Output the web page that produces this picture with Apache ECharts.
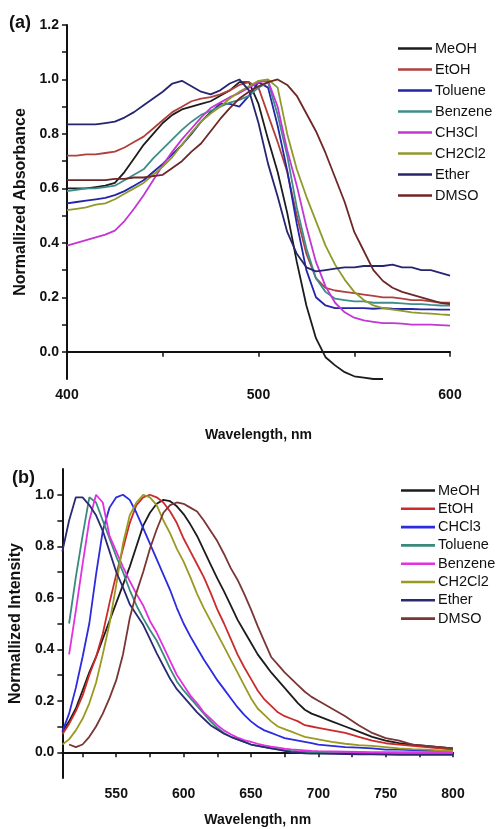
<!DOCTYPE html>
<html><head><meta charset="utf-8">
<script src="https://cdn.jsdelivr.net/npm/echarts@6/dist/echarts.min.js"></script>
<style>html,body{margin:0;padding:0;background:#fff}#c{width:496px;height:829px}</style>
</head><body><div id="c"></div><script>
// ---------- Panel (a): absorbance ----------
const wlA = [400,405,410,415,420,425,430,435,440,445,450,455,460,465,470,475,480,485,490,495,500,505,510,515,520,525,530,535,540,545,550,555,560,565,570,575,580,585,590,595,600];
const namesA = ['MeOH','EtOH','Toluene','Benzene','CH3Cl','CH2Cl2','Ether','DMSO'];
const colorsA = ['#1c1c1c','#b0403d','#2424a6','#3e8c8c','#c236d4','#8f9a2c','#26266e','#6e2626'];
const absMeOH   = [0.60,0.60,0.60,0.605,0.61,0.62,0.66,0.71,0.76,0.80,0.84,0.87,0.89,0.90,0.91,0.92,0.94,0.96,0.99,0.99,0.91,0.78,0.66,0.51,0.33,0.17,0.05,-0.02,-0.05,-0.075,-0.09,-0.095,-0.1,-0.1,null,null,null,null,null,null,null];
const absEtOH   = [0.72,0.72,0.725,0.725,0.73,0.735,0.75,0.77,0.79,0.82,0.85,0.88,0.90,0.92,0.93,0.935,0.945,0.96,0.98,0.99,0.97,0.87,0.77,0.66,0.50,0.36,0.27,0.235,0.225,0.22,0.215,0.21,0.205,0.20,0.20,0.195,0.19,0.19,0.185,0.18,0.18];
const absToluene= [0.545,0.55,0.555,0.56,0.565,0.575,0.59,0.61,0.63,0.66,0.69,0.725,0.76,0.80,0.845,0.88,0.91,0.91,0.90,0.94,0.99,0.97,0.83,0.665,0.47,0.30,0.20,0.17,0.16,0.16,0.16,0.16,0.158,0.16,0.158,0.157,0.157,0.156,0.156,0.155,0.155];
const absBenzene= [0.59,0.595,0.60,0.60,0.605,0.61,0.63,0.65,0.67,0.71,0.745,0.78,0.815,0.845,0.87,0.885,0.90,0.915,0.925,0.94,0.97,0.99,0.87,0.72,0.53,0.38,0.27,0.22,0.195,0.19,0.185,0.185,0.18,0.18,0.18,0.178,0.175,0.175,0.172,0.17,0.17];
const absCH3Cl  = [0.39,0.40,0.41,0.42,0.43,0.445,0.48,0.525,0.575,0.63,0.685,0.735,0.78,0.82,0.86,0.895,0.915,0.935,0.95,0.97,0.99,0.995,0.90,0.74,0.61,0.46,0.33,0.24,0.18,0.145,0.125,0.115,0.11,0.105,0.105,0.103,0.10,0.10,0.10,0.098,0.096];
const absCH2Cl2 = [0.52,0.525,0.53,0.54,0.545,0.56,0.58,0.60,0.62,0.65,0.68,0.715,0.76,0.805,0.845,0.875,0.90,0.93,0.955,0.975,0.995,1.0,0.97,0.80,0.67,0.57,0.48,0.39,0.32,0.265,0.22,0.19,0.17,0.16,0.155,0.15,0.145,0.142,0.14,0.137,0.135];
const absEther  = [0.835,0.835,0.835,0.835,0.84,0.845,0.86,0.88,0.905,0.93,0.955,0.985,0.995,0.975,0.955,0.945,0.96,0.985,1.0,0.96,0.84,0.69,0.57,0.44,0.36,0.31,0.295,0.30,0.305,0.31,0.31,0.315,0.315,0.315,0.32,0.31,0.31,0.30,0.30,0.29,0.28];
const absDMSO   = [0.63,0.63,0.63,0.63,0.63,0.635,0.635,0.64,0.64,0.645,0.65,0.675,0.70,0.735,0.765,0.81,0.855,0.895,0.93,0.955,0.975,0.99,1.0,0.98,0.94,0.875,0.81,0.73,0.64,0.55,0.44,0.37,0.30,0.26,0.235,0.22,0.21,0.20,0.19,0.18,0.175];
const valuesA = [absMeOH,absEtOH,absToluene,absBenzene,absCH3Cl,absCH2Cl2,absEther,absDMSO];
const xLabelsA = [400,500,600];
const xTicksA = [400,450,500,550,600];
const yLabelsA = [0,0.2,0.4,0.6,0.8,1.0,1.2];
const yTicksA = [0,0.1,0.2,0.3,0.4,0.5,0.6,0.7,0.8,0.9,1.0,1.1,1.2];

// ---------- Panel (b): emission ----------
const wlB = [510,515,520,525,530,535,540,545,550,555,560,565,570,575,580,585,590,595,600,605,610,615,620,625,630,635,640,645,650,655,660,665,670,675,680,685,690,695,700,710,720,730,740,750,760,770,780,790,800];
const namesB = ['MeOH','EtOH','CHCl3','Toluene','Benzene','CH2Cl2','Ether','DMSO'];
const colorsB = ['#1c1c1c','#cc2b2b','#2b2be0','#3a8a7c','#e032e0','#9a9a22','#2a2a72','#7a3535'];
const emMeOH   = [0.08,0.12,0.17,0.24,0.31,0.37,0.44,0.51,0.58,0.65,0.72,0.80,0.88,0.93,0.965,0.98,0.975,0.955,0.925,0.885,0.84,0.785,0.73,0.675,0.625,0.57,0.515,0.47,0.425,0.38,0.345,0.31,0.28,0.25,0.22,0.19,0.165,0.15,0.14,0.12,0.10,0.08,0.06,0.045,0.035,0.03,0.025,0.02,0.015];
const emEtOH   = [0.07,0.11,0.16,0.22,0.30,0.37,0.46,0.58,0.69,0.79,0.89,0.96,0.99,1.0,0.99,0.97,0.935,0.89,0.83,0.78,0.73,0.68,0.62,0.555,0.50,0.44,0.38,0.33,0.285,0.24,0.205,0.18,0.155,0.14,0.13,0.12,0.105,0.10,0.095,0.085,0.075,0.06,0.045,0.035,0.03,0.025,0.02,0.015,0.01];
const emCHCl3  = [0.08,0.15,0.25,0.37,0.50,0.69,0.86,0.95,0.99,1.0,0.98,0.93,0.87,0.81,0.75,0.69,0.63,0.56,0.50,0.45,0.405,0.36,0.32,0.28,0.245,0.21,0.175,0.145,0.12,0.10,0.085,0.075,0.065,0.055,0.05,0.045,0.04,0.035,0.03,0.025,0.02,0.018,0.015,0.01,0.01,0.008,0.006,0.005,0.005];
const emToluene= [null,0.50,0.68,0.84,0.99,0.97,0.90,0.83,0.76,0.70,0.63,0.57,0.52,0.475,0.434,0.38,0.325,0.275,0.24,0.21,0.18,0.15,0.12,0.095,0.075,0.06,0.05,0.04,0.03,0.025,0.02,0.015,0.012,0.008,0.005,0.003,0.002,0.0,0.0,0.0,0.0,-0.002,-0.003,-0.004,-0.005,-0.005,-0.005,-0.005,-0.005];
const emBenzene= [null,0.38,0.55,0.73,0.90,1.0,0.97,0.84,0.78,0.72,0.665,0.615,0.57,0.51,0.465,0.41,0.355,0.30,0.26,0.22,0.19,0.155,0.13,0.105,0.085,0.07,0.057,0.047,0.04,0.033,0.027,0.022,0.018,0.014,0.011,0.009,0.007,0.005,0.004,0.003,0.002,0.001,0,0,0,0,0,0,0];
const emCH2Cl2 = [0.03,0.05,0.085,0.13,0.19,0.27,0.38,0.50,0.65,0.81,0.92,0.97,1.0,0.99,0.96,0.90,0.85,0.79,0.74,0.68,0.615,0.56,0.51,0.46,0.41,0.36,0.31,0.26,0.21,0.17,0.145,0.12,0.10,0.09,0.08,0.07,0.06,0.055,0.05,0.04,0.033,0.028,0.025,0.02,0.015,0.012,0.01,0.007,0.005];
const emEther  = [0.78,0.90,0.99,0.99,0.96,0.92,0.86,0.78,0.70,0.64,0.575,0.535,0.495,0.44,0.385,0.335,0.285,0.245,0.215,0.185,0.155,0.13,0.105,0.088,0.072,0.06,0.05,0.04,0.03,0.025,0.02,0.015,0.01,0.005,0.0,-0.002,-0.004,-0.005,-0.005,-0.006,-0.007,-0.008,-0.008,-0.009,-0.01,-0.01,-0.01,-0.01,-0.01];
const emDMSO   = [null,0.03,0.02,0.03,0.06,0.10,0.15,0.21,0.28,0.38,0.52,0.62,0.70,0.79,0.865,0.93,0.96,0.97,0.965,0.95,0.935,0.90,0.86,0.82,0.77,0.715,0.67,0.615,0.555,0.49,0.43,0.37,0.34,0.31,0.285,0.26,0.235,0.215,0.20,0.17,0.14,0.105,0.075,0.055,0.045,0.03,0.025,0.02,0.015];
const valuesB = [emMeOH,emEtOH,emCHCl3,emToluene,emBenzene,emCH2Cl2,emEther,emDMSO];
const xLabelsB = [550,600,650,700,750,800];
const xTicksB = [525,550,575,600,625,650,675,700,725,750,775,800];
const yLabelsB = [0,0.2,0.4,0.6,0.8,1.0];
const yTicksB = [0,0.1,0.2,0.3,0.4,0.5,0.6,0.7,0.8,0.9,1.0];

const FONT = 'Liberation Sans, Arial, sans-serif';
const axisLineStyle = {show:true, lineStyle:{color:'#111', width:2}};
const labelStyle = {color:'#111', fontFamily:FONT, fontWeight:'bold', fontSize:14};
function xAxis(grid, min, max, labels, ticks, gap){
  return {type:'value', gridIndex:grid, min, max,
    name:'Wavelength, nm', nameLocation:'middle', nameGap:gap,
    nameTextStyle:{color:'#111', fontFamily:FONT, fontWeight:'bold', fontSize:14},
    axisLine:axisLineStyle, splitLine:{show:false},
    axisTick:{show:true, inside:false, length:5, lineStyle:{color:'#111', width:1.5}, customValues:ticks},
    axisLabel:{...labelStyle, margin:9, customValues:labels, formatter:v=>String(v)}};
}
function yAxis(grid, min, max, labels, ticks, name, gap){
  return {type:'value', gridIndex:grid, min, max,
    name, nameLocation:'middle', nameGap:gap, nameRotate:90,
    nameTextStyle:{color:'#111', fontFamily:FONT, fontWeight:'bold', fontSize:16},
    axisLine:axisLineStyle, splitLine:{show:false},
    axisTick:{show:true, inside:false, length:5, lineStyle:{color:'#111', width:1.5}, customValues:ticks},
    axisLabel:{...labelStyle, margin:8, customValues:labels, formatter:v=>v.toFixed(1)}};
}
const series = [];
namesA.forEach((n,i)=>series.push({name:n+'|a', type:'line', xAxisIndex:0, yAxisIndex:0, symbol:'none',
  lineStyle:{width:1.8, color:colorsA[i]}, itemStyle:{color:colorsA[i]},
  data: wlA.map((w,k)=>[w, valuesA[i][k]])}));
namesB.forEach((n,i)=>series.push({name:n+'|b', type:'line', xAxisIndex:1, yAxisIndex:1, symbol:'none',
  lineStyle:{width:1.8, color:colorsB[i]}, itemStyle:{color:colorsB[i]},
  data: wlB.map((w,k)=>[w, valuesB[i][k]])}));

const legendBase = {orient:'vertical', itemWidth:34, itemHeight:14, padding:0,
  icon:'path://M0,0L34,0L34,2.6L0,2.6Z',
  formatter:n=>n.split('|')[0], textStyle:{color:'#111', fontFamily:FONT, fontSize:14.5, lineHeight:14, padding:[0,0,0,-2]}};
const chart = echarts.init(document.getElementById('c'), null, {renderer:'canvas'});
chart.setOption({
  animation:false,
  backgroundColor:'#fff',
  grid:[{left:67, top:25, width:383, height:354},{left:62, top:469, width:391, height:309}],
  xAxis:[xAxis(0,400,600,xLabelsA,xTicksA,49), xAxis(1,510,800,xLabelsB,xTicksB,35)],
  yAxis:[yAxis(0,-0.1,1.2,yLabelsA,yTicksA,'Normallized Absorbance',38), yAxis(1,-0.1,1.1,yLabelsB,yTicksB,'Normallized Intensity',36)],
  legend:[
    {...legendBase, left:398, top:41, itemGap:6, data:namesA.map(n=>n+'|a')},
    {...legendBase, left:401, top:483, itemGap:3.3, data:namesB.map(n=>n+'|b')}
  ],
  graphic:[
    {type:'text', left:9, top:14, style:{text:'(a)', font:'bold 18px '+FONT, fill:'#111'}},
    {type:'text', left:12, top:469, style:{text:'(b)', font:'bold 18px '+FONT, fill:'#111'}}
  ],
  series
});
</script></body></html>
